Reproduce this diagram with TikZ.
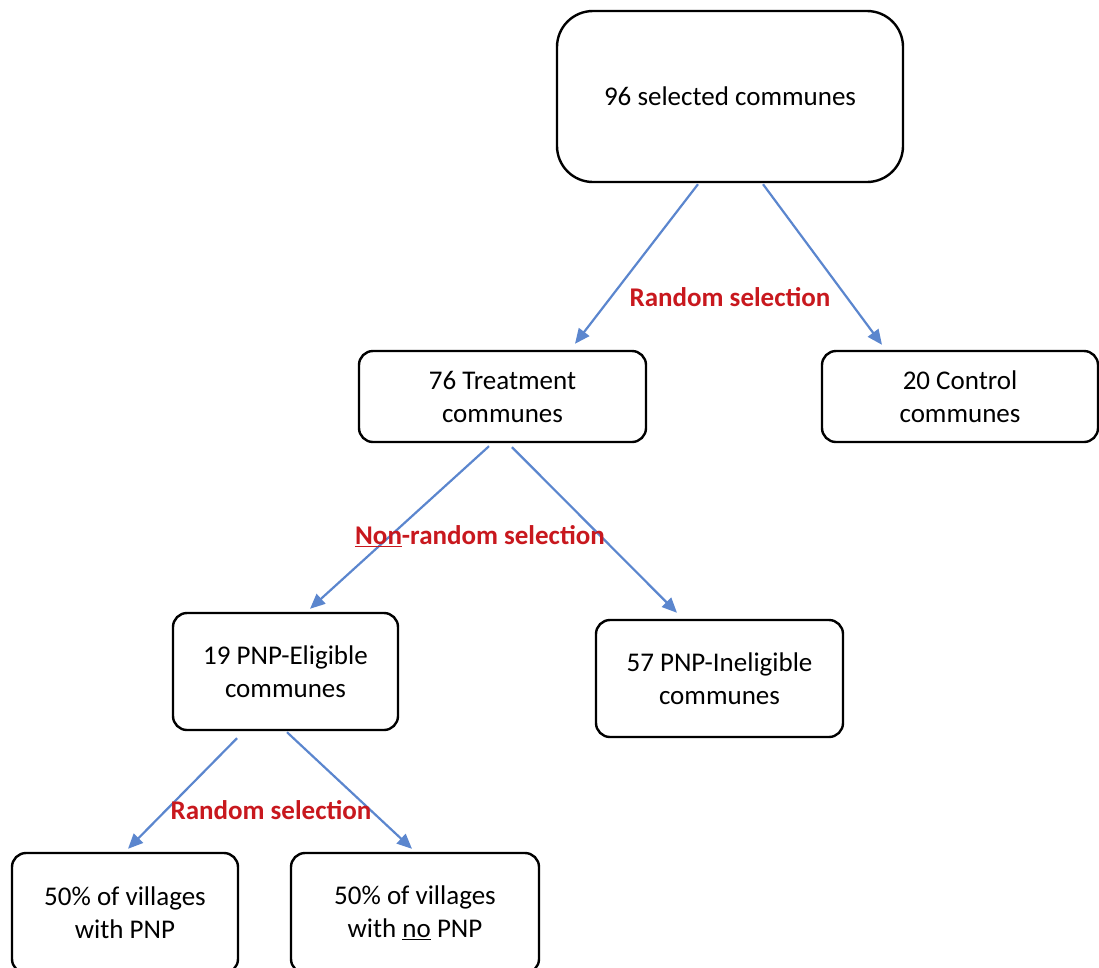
\documentclass[tikz,border=0pt]{standalone}
\usepackage{fontspec}
\setmainfont{Carlito}
\usetikzlibrary{arrows.meta,calc}
\definecolor{linkBlue}{RGB}{91,134,206}
\definecolor{selRed}{RGB}{200,24,30}

\begin{document}
\begin{tikzpicture}[x=1pt,y=-1pt,
  box/.style={draw=black, line width=2.4pt, rounded corners=14pt, align=center,
    inner sep=0pt, font=\fontsize{27}{33}\selectfont},
  link/.style={linkBlue, line width=2.2pt, -{Triangle[length=15pt,width=13pt]}},
  sel/.style={text=selRed, font=\fontsize{27}{30}\selectfont\bfseries}]
\useasboundingbox (0,0) rectangle (1099,967);
\clip (0,0) rectangle (1099,967);
% boxes
\node[box, minimum width=346pt, minimum height=171pt, rounded corners=36pt] (all) at (730,96.5) {96 selected communes};
\node[box, minimum width=287pt, minimum height=91pt] (treat) at (502.5,396.5) {76 Treatment\\communes};
\node[box, minimum width=276pt, minimum height=91pt] (ctrl) at (960,396.5) {20 Control\\communes};
\node[box, minimum width=225pt, minimum height=117pt] (elig) at (285.5,671.5) {19 PNP-Eligible\\communes};
\node[box, minimum width=247pt, minimum height=117pt] (inel) at (719.5,678.5) {57 PNP-Ineligible\\communes};
\node[box, minimum width=226pt, minimum height=120pt] (vilA) at (125,913) {50\% of villages\\with PNP};
\node[box, minimum width=248pt, minimum height=120pt] (vilB) at (415,913) {50\% of villages\\with \underline{no} PNP};
% arrows
\draw[link] ($(all.south)+(-32,1)$) -- ($(treat.north)+(72.5,-6)$);
\draw[link] ($(all.south)+(33,1)$) -- ($(ctrl.north)+(-78,-5)$);
\draw[link] ($(treat.south)+(-13.5,3)$) -- ($(elig.north)+(24.5,-3)$);
\draw[link] ($(treat.south)+(9.5,4)$) -- ($(inel.north)+(-42.5,-6)$);
\draw[link] ($(elig.south)+(-48.5,7)$) -- ($(vilA.north)+(3,-3)$);
\draw[link] ($(elig.south)+(1.5,1)$) -- ($(vilB.north)+(-3,-3)$);
% labels
\node[sel] (selA) at (730,297) {Random selection};
\node[sel] (selB) at (480,536) {\underline{Non}-random selection};
\node[sel] (selC) at (271,810) {Random selection};
\end{tikzpicture}
\end{document}
